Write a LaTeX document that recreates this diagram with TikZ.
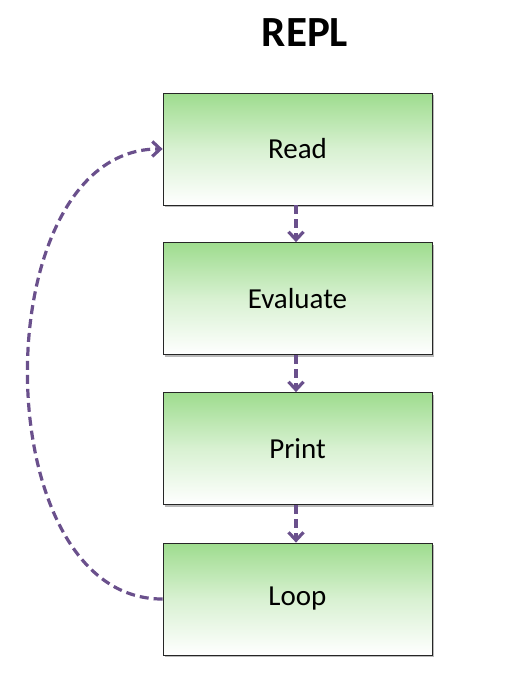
\documentclass[tikz,border=0pt]{standalone}
\usepackage{fontspec}
\setmainfont{Carlito}
\usetikzlibrary{arrows.meta}
\usetikzlibrary{shadows}
\definecolor{replgreen}{RGB}{158,220,142}
\definecolor{replpurple}{RGB}{106,80,140}

\begin{document}
\begin{tikzpicture}[x=1pt,y=-1pt,
  box/.style={draw=black!85,line width=0.8pt,minimum width=269pt,minimum height=112pt,
    top color=replgreen,bottom color=white,middle color=replgreen!40,
    drop shadow={shadow xshift=2pt,shadow yshift=-2pt,opacity=0.45,fill=black!60},
    font=\fontsize{29}{33}\selectfont},
  flow/.style={draw=replpurple,line width=3.2pt,dash pattern=on 9pt off 5pt,
    -{Straight Barb[length=8pt,width=15pt,line width=3.2pt]}}]
\useasboundingbox (0,0) rectangle (518,675);
\node[font=\fontsize{43}{48}\selectfont\bfseries] (title) at (305,33) {REPL};
\node[box] (read) at (297.5,149) {Read};
\node[box] (eval) at (297.5,298.5) {Evaluate};
\node[box] (print) at (297.5,448.5) {Print};
\node[box] (loop) at (297.5,599) {Loop};
%\coordinate (L1) at (-17,600);
\coordinate (L1) at (-17,600);
\coordinate (L2) at (-17,148);
\draw[flow] (read.south-|296,0) -- (eval.north-|296,0);
\draw[flow] (eval.south-|296,0) -- (print.north-|296,0);
\draw[flow] (print.south-|296,0) -- (loop.north-|296,0);
\draw[flow] (loop.west) .. controls (L1) and (L2) .. (read.west);
\end{tikzpicture}
\end{document}
